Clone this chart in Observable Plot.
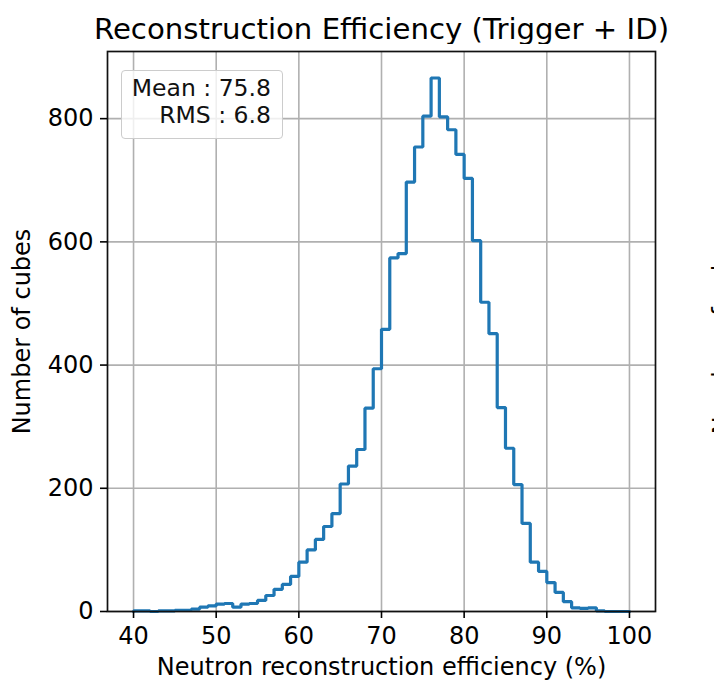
<!DOCTYPE html>
<html>
<head>
<meta charset="utf-8">
<script src="https://cdn.jsdelivr.net/npm/d3@7"></script>
<script src="https://cdn.jsdelivr.net/npm/@observablehq/plot@0.6"></script>
<style>
  html, body { margin: 0; padding: 0; background: #fff; overflow: hidden; }
  #wrap { position: relative; width: 714px; height: 682px; font-family: "DejaVu Sans", sans-serif; color: #000; overflow: hidden; }
  #title { position: absolute; left: 0; width: 763px; top: 0; height: 44px; box-sizing: border-box; padding-top: 15px; line-height: 29px; font-size: 29.2px; text-align: center; white-space: nowrap; }
  #chart { position: absolute; left: 0; top: 44px; }
  #stats { position: absolute; left: 121px; top: 70px; width: 162px; height: 69px; box-sizing: border-box; border: 1.6px solid #cccccc; border-radius: 4px; background: rgba(255,255,255,0.8); padding: 4px 11px 0 0; font-size: 23.5px; line-height: 27px; text-align: right; white-space: pre; color: #111; }
</style>
</head>
<body>
<div id="wrap">
  <div id="title"></div>
  <div id="chart"></div>
  <div id="stats"></div>
</div>
<script>
// ---- data ----
const titleText = "Reconstruction Efficiency (Trigger + ID)";
const xLabel = "Neutron reconstruction efficiency (%)";
const yLabel = "Number of cubes";
const binEdges = [40,41,42,43,44,45,46,47,48,49,50,51,52,53,54,55,56,57,58,59,
                  60,61,62,63,64,65,66,67,68,69,70,71,72,73,74,75,76,77,78,79,
                  80,81,82,83,84,85,86,87,88,89,90,91,92,93,94,95,96,97,98,99,100];
const counts = [1,1,0,1,1,2,2,4,7,9,
                12,13,7,12,13,18,26,36,44,57,
                80,100,117,138,159,207,236,263,330,394,
                458,574,581,697,754,804,866,803,782,742,
                703,602,502,451,331,265,206,143,80,65,
                47,31,16,6,5,6,1,0,0,0];
const xTicks = [40,50,60,70,80,90,100];
const yTicks = [0,200,400,600,800];
const statLabels = ["Mean", "RMS"];
const statValues = ["75.8", "6.8"];

// ---- build step outline (matplotlib histtype="step") ----
const pts = [{x: binEdges[0], y: 0}];
counts.forEach((c, i) => pts.push({x: binEdges[i], y: c}));
pts.push({x: binEdges[binEdges.length - 1], y: counts[counts.length - 1]});
pts.push({x: binEdges[binEdges.length - 1], y: 0});

document.getElementById("title").textContent = titleText;
document.getElementById("stats").textContent =
  statLabels.map((l, i) => `${l} : ${statValues[i]}`).join("\n");

const chart = Plot.plot({
  width: 714,
  height: 638,
  marginTop: 7,
  marginBottom: 71,
  marginLeft: 107,
  marginRight: 59,
  style: {fontFamily: "DejaVu Sans", fontSize: "24px", background: "white", color: "black"},
  x: {domain: [36.85, 103.15], ticks: xTicks, label: null},
  y: {domain: [0, 909], ticks: yTicks, label: null},
  marks: [
    Plot.gridX(xTicks, {stroke: "#b0b0b0", strokeOpacity: 1, strokeWidth: 1.6}),
    Plot.gridY(yTicks, {stroke: "#b0b0b0", strokeOpacity: 1, strokeWidth: 1.6}),
    Plot.line(pts, {x: "x", y: "y", curve: "step-after", stroke: "#1f77b4", strokeWidth: 3.2, strokeLinejoin: "miter"}),
    Plot.frame({stroke: "#111", strokeWidth: 1.7}),
    Plot.axisX(xTicks, {tickSize: 7, tickPadding: 8, fontSize: 24, strokeWidth: 1.6, label: null}),
    Plot.axisY(yTicks, {tickSize: 7, tickPadding: 7, fontSize: 24, strokeWidth: 1.6, label: null}),
    Plot.text([xLabel], {text: d => d, frameAnchor: "bottom", dy: 56, lineAnchor: "middle", textAnchor: "middle", fontSize: 24}),
    Plot.text([yLabel], {text: d => d, frameAnchor: "left", dx: -85, rotate: -90, lineAnchor: "middle", textAnchor: "middle", fontSize: 24}),
    // y label of the neighbouring panel, cut off by the right edge as in the reference
    Plot.text([yLabel], {text: d => d, frameAnchor: "right", dx: 67, rotate: -90, lineAnchor: "middle", textAnchor: "middle", fontSize: 24})
  ]
});
document.getElementById("chart").appendChild(chart);
</script>
</body>
</html>
